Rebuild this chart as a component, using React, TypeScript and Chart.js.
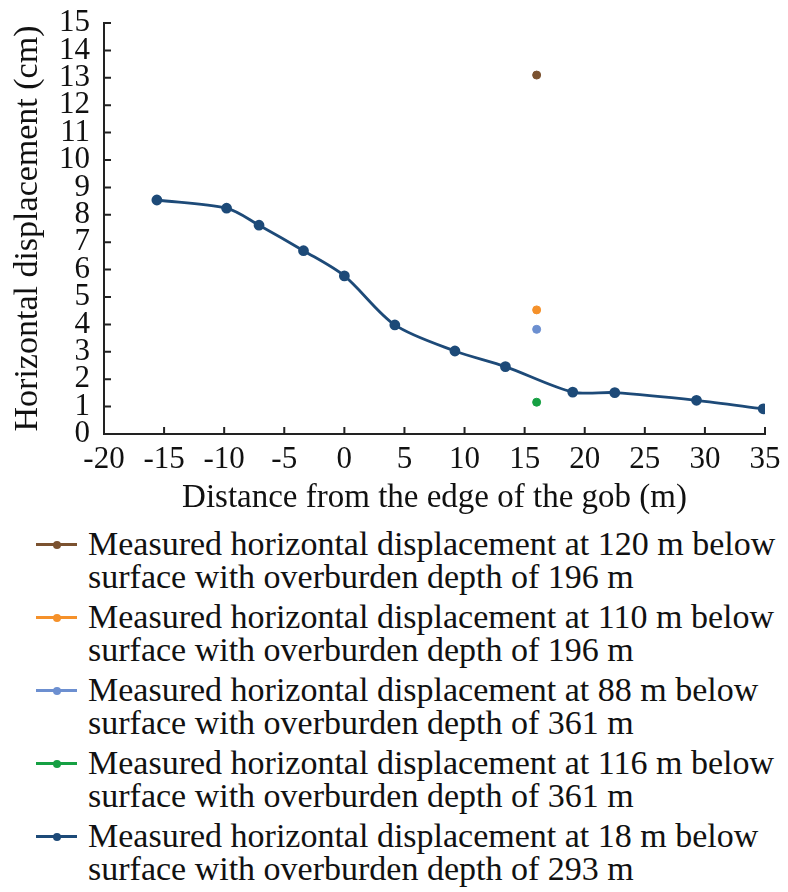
import React, { useEffect, useRef } from "react";
import { Chart, registerables } from "chart.js";

Chart.register(...registerables);

const FONT = "Liberation Serif";

const mainX = [-15.6, -9.8, -7.1, -3.4, 0, 4.2, 9.2, 13.4, 19.0, 22.5, 29.3, 34.85];
const mainY = [8.54, 8.24, 7.62, 6.69, 5.77, 3.98, 3.03, 2.46, 1.53, 1.51, 1.23, 0.92];

const singleX = 16;
const singleY = [13.1, 4.53, 3.82, 1.16];

const seriesLabels = [
  ["Measured horizontal displacement at 120 m below", "surface with overburden depth of 196 m"],
  ["Measured horizontal displacement at 110 m below", "surface with overburden depth of 196 m"],
  ["Measured horizontal displacement at 88 m below", "surface with overburden depth of 361 m"],
  ["Measured horizontal displacement at 116 m below", "surface with overburden depth of 361 m"],
  ["Measured horizontal displacement at 18 m below", "surface with overburden depth of 293 m"],
];
const seriesColors = ["#7b5230", "#f5912a", "#6c8fd0", "#16a043", "#1d4a78"];

const xTicks = [-20, -15, -10, -5, 0, 5, 10, 15, 20, 25, 30, 35];
const yTicks = [0, 1, 2, 3, 4, 5, 6, 7, 8, 9, 10, 11, 12, 13, 14, 15];

const CANVAS_W = 788;
const CANVAS_H = 518;

const inwardTicks = {
  id: "inwardTicks",
  afterDraw(chart: any) {
    const { ctx } = chart;
    const xs = chart.scales.x;
    const ys = chart.scales.y;
    const len = 7;
    ctx.save();
    ctx.strokeStyle = "#222";
    ctx.lineWidth = 2;
    ctx.beginPath();
    xTicks.forEach((v) => {
      const px = xs.getPixelForValue(v);
      ctx.moveTo(px, ys.bottom);
      ctx.lineTo(px, ys.bottom - len);
    });
    yTicks.forEach((v) => {
      const py = ys.getPixelForValue(v);
      ctx.moveTo(xs.left, py);
      ctx.lineTo(xs.left + len, py);
    });
    ctx.stroke();
    ctx.restore();
  },
};

export default function App() {
  const ref = useRef<HTMLCanvasElement | null>(null);

  useEffect(() => {
    document.body.style.margin = "0";
    const canvas = ref.current;
    if (!canvas) return;
    const datasets: any[] = singleY.map((y, i) => ({
      label: seriesLabels[i].join(" "),
      data: [{ x: singleX, y }],
      showLine: false,
      pointRadius: 4,
      pointBackgroundColor: seriesColors[i],
      pointBorderColor: seriesColors[i],
      borderColor: seriesColors[i],
    }));
    datasets.push({
      label: seriesLabels[4].join(" "),
      data: mainX.map((x, i) => ({ x, y: mainY[i] })),
      showLine: true,
      borderColor: seriesColors[4],
      borderWidth: 2.8,
      pointRadius: 4,
      pointBackgroundColor: seriesColors[4],
      pointBorderColor: seriesColors[4],
      tension: 0.3,
    });
    const chart = new Chart(canvas, {
      type: "scatter",
      data: { datasets },
      options: {
        animation: false,
        responsive: false,
        maintainAspectRatio: false,
        layout: { padding: { top: 23, right: 23, left: 0, bottom: 0 } },
        plugins: { legend: { display: false }, tooltip: { enabled: false } },
        scales: {
          x: {
            type: "linear",
            min: -20,
            max: 35,
            afterBuildTicks: (s: any) => {
              s.ticks = xTicks.map((v) => ({ value: v }));
            },
            afterFit: (s: any) => {
              s.height = CANVAS_H - 434;
              s.paddingLeft = 0;
              s.paddingRight = 0;
            },
            grid: { display: false, drawTicks: false },
            border: { display: true, color: "#222", width: 2 },
            ticks: {
              color: "#111",
              font: { family: FONT, size: 31 },
              padding: 7,
              autoSkip: false,
              maxRotation: 0,
            },
            title: {
              display: true,
              text: "Distance from the edge of the gob (m)",
              color: "#111",
              font: { family: FONT, size: 33 },
              padding: { top: 0, bottom: 0 },
            },
          },
          y: {
            type: "linear",
            min: 0,
            max: 15,
            afterBuildTicks: (s: any) => {
              s.ticks = yTicks.map((v) => ({ value: v }));
            },
            afterFit: (s: any) => {
              s.width = 104;
              s.paddingTop = 0;
              s.paddingBottom = 0;
            },
            grid: { display: false, drawTicks: false },
            border: { display: true, color: "#222", width: 2 },
            ticks: {
              color: "#111",
              font: { family: FONT, size: 31 },
              padding: 14,
              autoSkip: false,
            },
            title: {
              display: true,
              text: "Horizontal displacement (cm)",
              color: "#111",
              font: { family: FONT, size: 34 },
              padding: { top: 8, bottom: 0 },
            },
          },
        },
      },
      plugins: [inwardTicks],
    });
    return () => chart.destroy();
  }, []);

  return (
    <div style={{ width: CANVAS_W, fontFamily: FONT, background: "#fff" }}>
      <canvas ref={ref} width={CANVAS_W} height={CANVAS_H} style={{ display: "block" }} />
      <div style={{ paddingLeft: 36, paddingTop: 9 }}>
        {seriesLabels.map((lines, i) => (
          <div key={i} style={{ display: "flex", alignItems: "flex-start", marginBottom: 7 }}>
            <div style={{ position: "relative", width: 41, height: 33, flexShrink: 0, marginRight: 11 }}>
              <div style={{ position: "absolute", left: 0, right: 0, top: 16, height: 3, background: seriesColors[i] }} />
              <div
                style={{
                  position: "absolute",
                  left: 16.5,
                  top: 13.5,
                  width: 8,
                  height: 8,
                  borderRadius: 4,
                  background: seriesColors[i],
                }}
              />
            </div>
            <div style={{ fontSize: 34, lineHeight: "33px", color: "#111" }}>
              {lines.map((l, j) => (
                <div key={j} style={{ whiteSpace: "nowrap" }}>{l}</div>
              ))}
            </div>
          </div>
        ))}
      </div>
    </div>
  );
}
